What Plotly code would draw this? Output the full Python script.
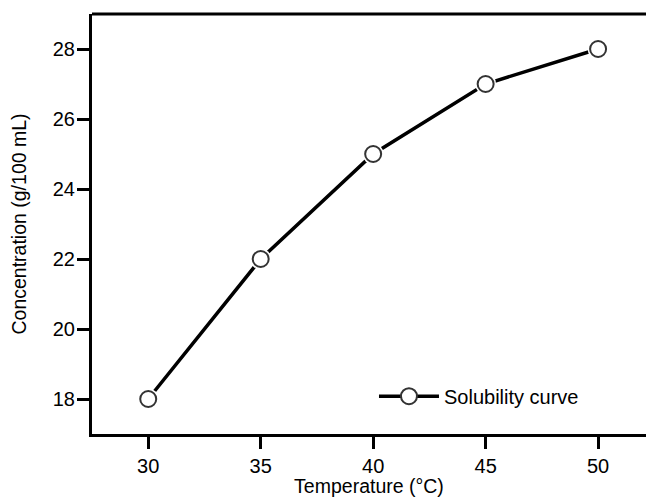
import plotly.graph_objects as go

temperature = [30, 35, 40, 45, 50]
concentration = [18, 22, 25, 27, 28]
series_name = "Solubility curve"
x_title = "Temperature (°C)"
y_title = "Concentration (g/100 mL)"
x_ticks = [30, 35, 40, 45, 50]
y_ticks = [18, 20, 22, 24, 26, 28]

FONT = "Liberation Sans, Arial, Helvetica, sans-serif"
FS = 20
TFS = 19.5

fig = go.Figure()
# connecting line
fig.add_trace(go.Scatter(x=temperature, y=concentration, mode="lines",
                         line=dict(color="black", width=3.5),
                         showlegend=False, hoverinfo="skip"))
# white halo to create a gap between line and markers
fig.add_trace(go.Scatter(x=temperature, y=concentration, mode="markers",
                         marker=dict(size=21, color="white", line=dict(width=0)),
                         showlegend=False, hoverinfo="skip"))
# open circle markers
fig.add_trace(go.Scatter(x=temperature, y=concentration, mode="markers",
                         marker=dict(size=16, color="white", line=dict(color="#333333", width=2)),
                         showlegend=False, name=series_name))
# legend entry
fig.add_trace(go.Scatter(x=[None], y=[None], mode="lines+markers", name=series_name,
                         line=dict(color="black", width=3.5),
                         marker=dict(size=16, color="white", line=dict(color="#333333", width=2))))

fig.update_layout(
    width=646, height=497,
    margin=dict(l=92, r=0, t=14, b=63, autoexpand=False),
    paper_bgcolor="white", plot_bgcolor="white",
    font=dict(family=FONT, size=FS, color="black"),
    showlegend=True,
    legend=dict(x=0.509, y=0.09, xanchor="left", yanchor="middle",
                bgcolor="rgba(0,0,0,0)", borderwidth=0,
                font=dict(family=FONT, size=FS), itemwidth=60),
    shapes=[dict(type="line", xref="paper", yref="paper", x0=0, x1=1, y0=1, y1=1,
                 line=dict(color="black", width=3))],
)
fig.update_xaxes(range=[27.5, 52.13], tickvals=x_ticks, ticks="outside", ticklen=12,
                 tickwidth=3, tickcolor="black", showline=True, linecolor="black",
                 linewidth=3, showgrid=False, zeroline=False, automargin=True,
                 tickfont=dict(family=FONT, size=FS),
                 title=dict(text=x_title, standoff=12, font=dict(family=FONT, size=TFS)))
fig.update_yaxes(range=[17, 29], tickvals=y_ticks, ticks="outside", ticklen=12,
                 tickwidth=3, tickcolor="black", showline=True, linecolor="black",
                 linewidth=3, showgrid=False, zeroline=False, automargin=True,
                 tickfont=dict(family=FONT, size=FS), ticklabelstandoff=-2,
                 title=dict(text=y_title, standoff=21, font=dict(family=FONT, size=TFS)))

fig.write_html("out.html", config={"displayModeBar": False},
               post_script="document.body.style.margin='0';document.body.style.overflow='hidden';")
